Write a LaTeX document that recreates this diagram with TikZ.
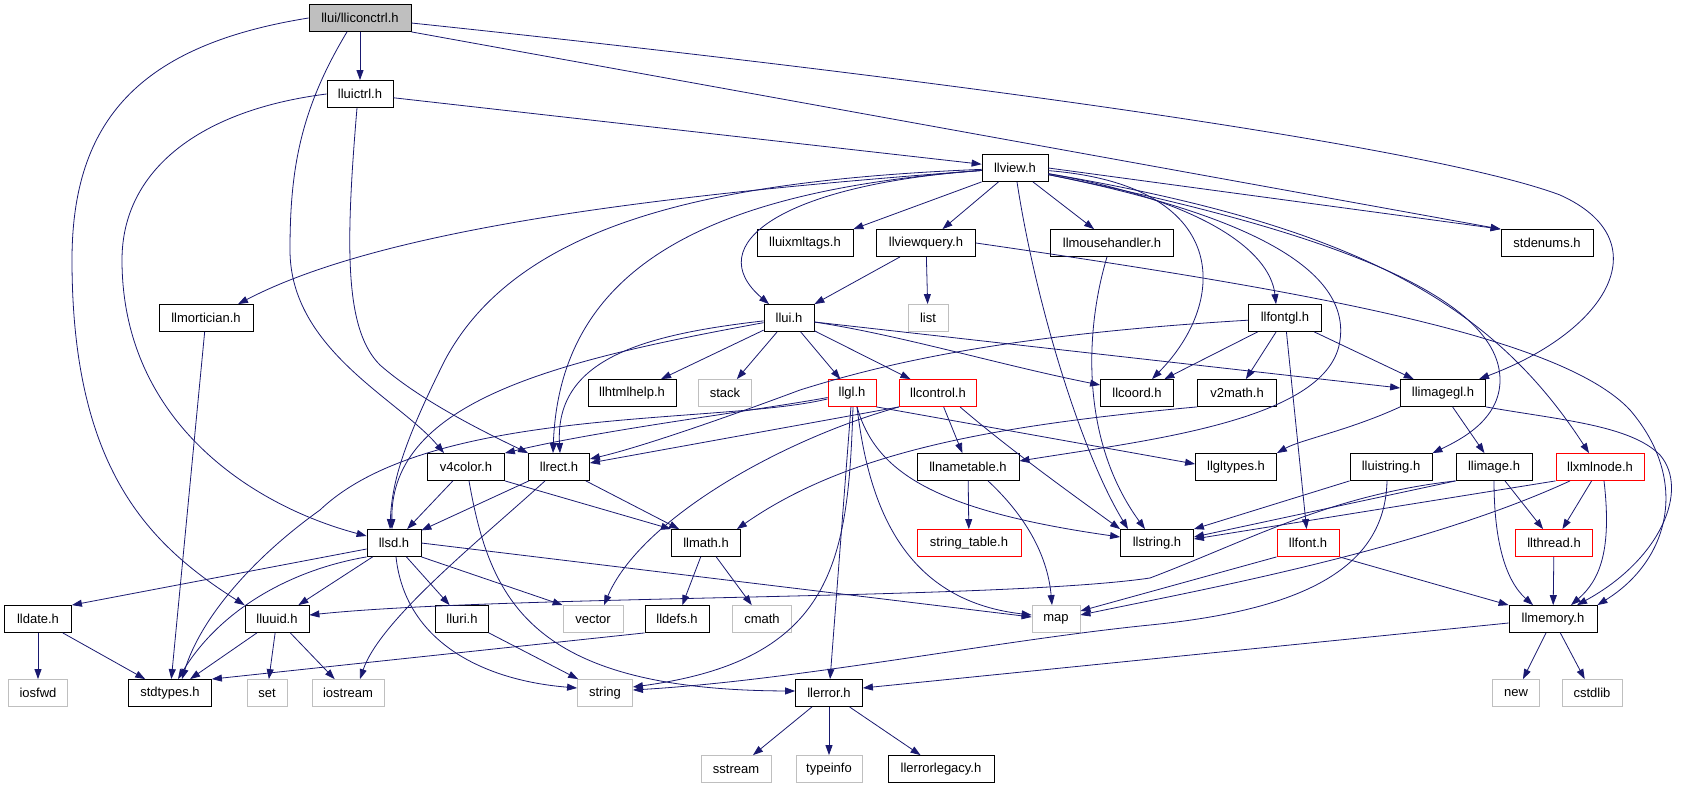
\documentclass[tikz,border=0pt]{standalone}
\usepackage{fontspec}
\setmainfont{Liberation Sans}
\usepackage{tikz}
\usetikzlibrary{arrows.meta}
\definecolor{edgeblue}{HTML}{191970}
\tikzset{
	hdr/.style={draw=black, fill=white, line width=0.8pt, minimum height=27pt, inner sep=0pt, font=\fontsize{13}{15}\selectfont},
	syshdr/.style={hdr, draw=gray!50},
	redhdr/.style={hdr, draw=red},
	roothdr/.style={hdr, fill=gray!50},
	dep/.style={draw=edgeblue, line width=0.8pt, -{Triangle[length=10pt,width=7pt]}},
}
\begin{document}
\begin{tikzpicture}[x=1pt,y=-1pt]
	\useasboundingbox (0,0) rectangle (1696,784);
	% headers
	\node[roothdr, minimum width=102pt] (lliconctrl) at (360,18) {llui/lliconctrl.h};
	\node[hdr, minimum width=66pt] (lluictrl) at (360,94) {lluictrl.h};
	\node[hdr, minimum width=66pt] (llview) at (1015,168) {llview.h};
	\node[hdr, minimum width=96pt] (lluixmltags) at (805,243) {lluixmltags.h};
	\node[hdr, minimum width=99pt] (llviewquery) at (926,243) {llviewquery.h};
	\node[hdr, minimum width=123pt] (llmousehandler) at (1112,243) {llmousehandler.h};
	\node[hdr, minimum width=92pt] (stdenums) at (1547,243) {stdenums.h};
	\node[hdr, minimum width=94pt] (llmortician) at (206,318) {llmortician.h};
	\node[hdr, minimum width=50pt] (llui) at (789,318) {llui.h};
	\node[syshdr, minimum width=40pt] (list) at (928,318) {list};
	\node[hdr, minimum width=73pt] (llfontgl) at (1285,318) {llfontgl.h};
	\node[hdr, minimum width=88pt] (llhtmlhelp) at (632,393) {llhtmlhelp.h};
	\node[syshdr, minimum width=53pt] (stack) at (725,393) {stack};
	\node[redhdr, minimum width=48pt] (llgl) at (852,393) {llgl.h};
	\node[redhdr, minimum width=77pt] (llcontrol) at (938,393) {llcontrol.h};
	\node[hdr, minimum width=73pt] (llcoord) at (1137,393) {llcoord.h};
	\node[hdr, minimum width=79pt] (v2math) at (1237,393) {v2math.h};
	\node[hdr, minimum width=85pt] (llimagegl) at (1443,393) {llimagegl.h};
	\node[hdr, minimum width=77pt] (v4color) at (466,467) {v4color.h};
	\node[hdr, minimum width=61pt] (llrect) at (559,467) {llrect.h};
	\node[hdr, minimum width=102pt] (llnametable) at (968,467) {llnametable.h};
	\node[hdr, minimum width=81pt] (llgltypes) at (1236,467) {llgltypes.h};
	\node[hdr, minimum width=82pt] (lluistring) at (1391,467) {lluistring.h};
	\node[hdr, minimum width=76pt] (llimage) at (1494,467) {llimage.h};
	\node[redhdr, minimum width=88pt] (llxmlnode) at (1600,467) {llxmlnode.h};
	\node[hdr, minimum width=54pt] (llsd) at (394,543) {llsd.h};
	\node[hdr, minimum width=69pt] (llmath) at (706,543) {llmath.h};
	\node[redhdr, minimum width=104pt] (stringtable) at (969,543) {string\_table.h};
	\node[hdr, minimum width=73pt] (llstring) at (1157,543) {llstring.h};
	\node[redhdr, minimum width=62pt] (llfont) at (1308,543) {llfont.h};
	\node[redhdr, minimum width=77pt] (llthread) at (1554,543) {llthread.h};
	\node[hdr, minimum width=67pt] (lldate) at (38,619) {lldate.h};
	\node[hdr, minimum width=64pt] (lluuid) at (277,619) {lluuid.h};
	\node[hdr, minimum width=53pt] (lluri) at (462,619) {lluri.h};
	\node[syshdr, minimum width=60pt] (vector) at (593,619) {vector};
	\node[hdr, minimum width=64pt] (lldefs) at (677,619) {lldefs.h};
	\node[syshdr, minimum width=59pt] (cmath) at (762,619) {cmath};
	\node[syshdr, minimum width=48pt] (map) at (1056,619) {map};
	\node[hdr, minimum width=88pt] (llmemory) at (1553,619) {llmemory.h};
	\node[syshdr, minimum width=59pt] (iosfwd) at (38,693) {iosfwd};
	\node[hdr, minimum width=83pt] (stdtypes) at (170,693) {stdtypes.h};
	\node[syshdr, minimum width=40pt] (set) at (267,693) {set};
	\node[syshdr, minimum width=72pt] (iostream) at (348,693) {iostream};
	\node[syshdr, minimum width=55pt] (string) at (605,693) {string};
	\node[hdr, minimum width=67pt] (llerror) at (829,693) {llerror.h};
	\node[syshdr, minimum width=47pt] (new) at (1516,693) {new};
	\node[syshdr, minimum width=60pt] (cstdlib) at (1592,693) {cstdlib};
	\node[syshdr, minimum width=70pt] (sstream) at (736,769) {sstream};
	\node[syshdr, minimum width=66pt] (typeinfo) at (829,769) {typeinfo};
	\node[hdr, minimum width=106pt] (llerrorlegacy) at (941,769) {llerrorlegacy.h};
	% includes
	\draw[dep] (lliconctrl) -- (lluictrl);
	\draw[dep] (lliconctrl.west) .. controls (140,45) and (72,120) .. (72,260) .. controls (72,470) and (150,545) .. (lluuid.north west);
	\draw[dep] ([xshift=-13pt]lliconctrl.south) .. controls (300,110) and (290,170) .. (290,250) .. controls (290,350) and (400,400) .. ([xshift=-22pt]v4color.north);
	\draw[dep] (lliconctrl.south east) -- (stdenums.north west);
	\draw[dep] ([yshift=-5pt]lliconctrl.east) .. controls (1000,85) and (1440,150) .. (1560,195) .. controls (1660,240) and (1610,330) .. ([xshift=36pt]llimagegl.north);
	\draw[dep] (lluictrl) -- (llview);
	\draw[dep] (lluictrl.west) .. controls (200,110) and (122,170) .. (122,260) .. controls (122,420) and (250,505) .. ([yshift=7pt]llsd.west);
	\draw[dep] ([xshift=-3pt]lluictrl.south) .. controls (345,250) and (345,330) .. (380,365) .. controls (420,400) and (480,430) .. (llrect.north west);
	\draw[dep] (llview) .. controls (650,195) and (380,230) .. ([xshift=32pt]llmortician.north);
	\draw[dep] (llview) .. controls (720,180) and (520,220) .. (445,360) .. controls (405,440) and (392,480) .. ([xshift=-4pt]llsd.north);
	\draw[dep] (llview) .. controls (720,190) and (560,260) .. ([xshift=-6pt]llrect.north);
	\draw[dep] (llview) .. controls (780,185) and (700,245) .. ([xshift=-20pt]llui.north);
	\draw[dep] (llview.south west) -- (lluixmltags.north east);
	\draw[dep] (llview) -- (llviewquery);
	\draw[dep] (llview) -- (llmousehandler);
	\draw[dep] ([xshift=2pt]llview.south) .. controls (1035,300) and (1080,450) .. ([xshift=-29pt]llstring.north);
	\draw[dep] (llview.east) -- (stdenums.north west);
	\draw[dep] (llview) .. controls (1230,185) and (1230,300) .. ([xshift=15pt]llcoord.north);
	\draw[dep] (llview) .. controls (1200,200) and (1270,250) .. ([xshift=-9pt]llfontgl.north);
	\draw[dep] (llview) .. controls (1250,215) and (1350,270) .. (1340,340) .. controls (1330,420) and (1150,440) .. ([yshift=6pt]llnametable.east);
	\draw[dep] (llview) .. controls (1300,225) and (1500,290) .. (1500,380) .. controls (1500,420) and (1460,440) .. (lluistring.north east);
	\draw[dep] (llview) .. controls (1350,225) and (1490,300) .. ([xshift=-11pt]llxmlnode.north);
	\draw[dep] ([xshift=-26pt]llviewquery.south) -- (llui.north east);
	\draw[dep] (llviewquery) -- (list);
	\draw[dep] (llviewquery.east) .. controls (1300,290) and (1560,335) .. (1630,410) .. controls (1690,480) and (1670,560) .. (llmemory.north east);
	\draw[dep] ([xshift=-5pt]llmousehandler.south) .. controls (1085,330) and (1080,440) .. ([xshift=-12pt]llstring.north);
	\draw[dep] (llui) -- (llhtmlhelp);
	\draw[dep] (llui) -- (stack);
	\draw[dep] (llui) -- (llgl);
	\draw[dep] (llui) -- (llcontrol);
	\draw[dep] ([yshift=-4pt]llui.east) .. controls (900,335) and (1000,365) .. ([yshift=8pt]llcoord.west);
	\draw[dep] ([yshift=-4pt]llui.east) -- ([yshift=5pt]llimagegl.west);
	\draw[dep] (llui) .. controls (640,335) and (555,360) .. ([xshift=1pt]llrect.north);
	\draw[dep] (llui) .. controls (560,360) and (390,400) .. ([xshift=-2pt]llsd.north);
	\draw[dep] (llfontgl) .. controls (1000,335) and (880,365) .. (800,390) .. controls (760,405) and (650,445) .. ([yshift=8pt]llrect.east);
	\draw[dep] (llfontgl) -- (llcoord);
	\draw[dep] (llfontgl) -- (v2math);
	\draw[dep] (llfontgl) -- (llimagegl);
	\draw[dep] (llfontgl) -- (llfont);
	\draw[dep] (llgl) .. controls (760,410) and (600,430) .. (v4color.north east);
	\draw[dep] (llgl) .. controls (720,425) and (430,405) .. (320,510) .. controls (250,560) and (200,620) .. ([xshift=12pt]stdtypes.north);
	\draw[dep] (llgl.south east) -- ([yshift=3pt]llgltypes.west);
	\draw[dep] ([xshift=5pt]llgl.south) .. controls (875,470) and (930,510) .. ([yshift=6pt]llstring.west);
	\draw[dep] ([xshift=5pt]llgl.south) .. controls (868,500) and (900,600) .. ([yshift=4pt]map.west);
	\draw[dep] (llgl) -- (llerror);
	\draw[dep] ([xshift=1pt]llgl.south) .. controls (848,560) and (835,660) .. ([yshift=6pt]string.east);
	\draw[dep] (llcontrol.south west) -- ([yshift=4pt]llrect.east);
	\draw[dep] (llcontrol.south west) .. controls (780,440) and (640,520) .. ([xshift=11pt]vector.north);
	\draw[dep] (llcontrol) -- (llnametable);
	\draw[dep] ([xshift=22pt]llcontrol.south) .. controls (1010,450) and (1080,500) .. (llstring.north west);
	\draw[dep] (llimagegl.south west) .. controls (1350,430) and (1300,440) .. (llgltypes.north east);
	\draw[dep] (llimagegl) -- (llimage);
	\draw[dep] (llimagegl.south east) .. controls (1560,420) and (1630,425) .. (1660,455) .. controls (1690,490) and (1660,560) .. ([xshift=24pt]llmemory.north);
	\draw[dep] (v2math.south west) .. controls (1000,425) and (850,450) .. ([xshift=-4pt]llmath.north east);
	\draw[dep] (v4color) -- (llsd);
	\draw[dep] (v4color.south east) -- (llmath.north west);
	\draw[dep] ([xshift=3pt]v4color.south) .. controls (490,600) and (530,690) .. ([yshift=2pt]llerror.west);
	\draw[dep] (llrect) -- (llsd);
	\draw[dep] (llrect) -- (llmath);
	\draw[dep] ([xshift=-14pt]llrect.south) .. controls (480,540) and (380,620) .. ([xshift=12pt]iostream.north);
	\draw[dep] ([yshift=-6pt]llsd.west) -- (lldate.north east);
	\draw[dep] (llsd.south west) .. controls (290,570) and (220,610) .. ([xshift=8pt]stdtypes.north);
	\draw[dep] (llsd) -- (lluuid);
	\draw[dep] (llsd) -- (lluri);
	\draw[dep] (llsd.south east) -- (vector.north west);
	\draw[dep] ([xshift=2pt]llsd.south) .. controls (405,640) and (480,680) .. ([yshift=5pt]string.west);
	\draw[dep] (llsd.east) -- ([yshift=2pt]map.west);
	\draw[dep] (llmath) -- (lldefs);
	\draw[dep] (llmath) -- (cmath);
	\draw[dep] (lldefs.south west) -- (stdtypes.north east);
	\draw[dep] (lldate) -- (iosfwd);
	\draw[dep] (lldate) -- (stdtypes);
	\draw[dep] (lluuid) -- (stdtypes);
	\draw[dep] (lluuid) -- (set);
	\draw[dep] (lluuid) -- (iostream);
	\draw[dep] (lluri) -- (string);
	\draw[dep] (llmortician) -- (stdtypes);
	\draw[dep] (llnametable) -- (stringtable);
	\draw[dep] ([xshift=20pt]llnametable.south) .. controls (1030,520) and (1048,560) .. ([xshift=-4pt]map.north);
	\draw[dep] (lluistring.south west) -- (llstring.north east);
	\draw[dep] ([xshift=-4pt]lluistring.south) .. controls (1385,570) and (1300,610) .. (1150,625) .. controls (1000,640) and (800,680) .. ([yshift=3pt]string.east);
	\draw[dep] (llimage.south west) -- ([yshift=6pt]llstring.east);
	\draw[dep] (llimage.south west) .. controls (1330,495) and (1250,540) .. (1150,578) .. controls (1000,600) and (500,595) .. ([yshift=4pt]lluuid.east);
	\draw[dep] (llimage) -- (llthread);
	\draw[dep] (llimage.south) .. controls (1494,540) and (1505,580) .. ([xshift=-20pt]llmemory.north);
	\draw[dep] (llxmlnode.south west) -- ([yshift=4pt]llstring.east);
	\draw[dep] ([xshift=-30pt]llxmlnode.south) .. controls (1420,550) and (1200,590) .. ([yshift=4pt]map.east);
	\draw[dep] (llxmlnode) -- (llthread);
	\draw[dep] ([xshift=4pt]llxmlnode.south) .. controls (1612,550) and (1600,580) .. ([xshift=18pt]llmemory.north);
	\draw[dep] (llfont.south west) -- ([yshift=8pt]map.east);
	\draw[dep] (llfont.south east) -- (llmemory.north west);
	\draw[dep] (llthread) -- (llmemory);
	\draw[dep] (llmemory) -- (new);
	\draw[dep] (llmemory) -- (cstdlib);
	\draw[dep] ([yshift=-4pt]llmemory.west) -- ([yshift=5pt]llerror.east);
	\draw[dep] (llerror) -- (sstream);
	\draw[dep] (llerror) -- (typeinfo);
	\draw[dep] (llerror) -- (llerrorlegacy);
\end{tikzpicture}
\end{document}
